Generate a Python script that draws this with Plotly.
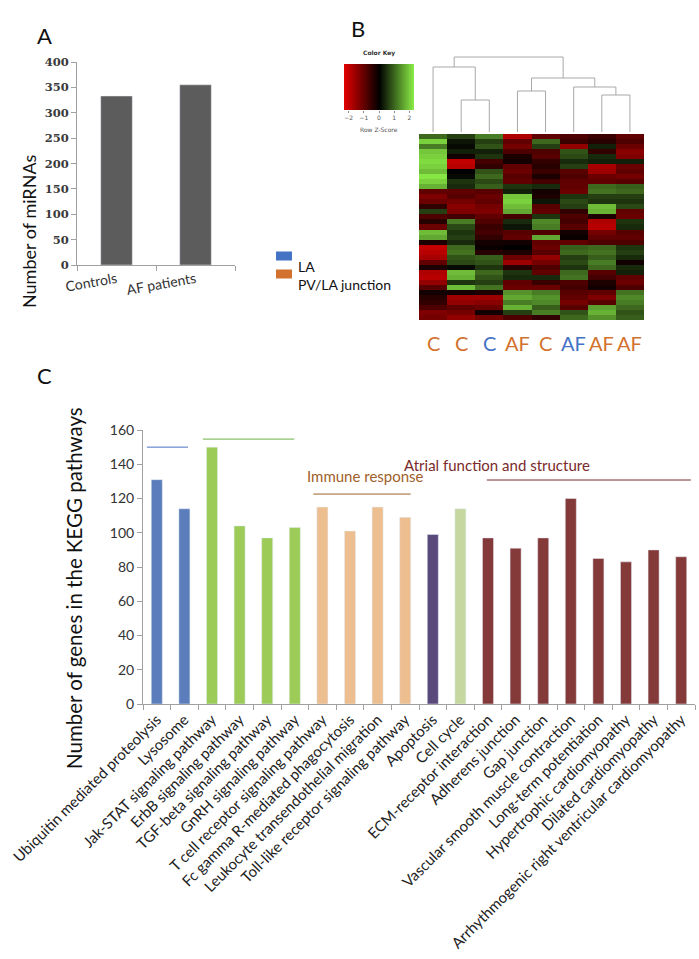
import plotly.graph_objects as go

W, H = 699, 959


def fx(p):
    return p / W


def fy(p):
    return 1 - p / H


# ---------------- Panel A data ----------------
groups_a = ["Controls", "AF patients"]
mirna_counts = [333, 355]

# ---------------- Panel B data ----------------
sample_labels = ["C", "C", "C", "AF", "C", "AF", "AF", "AF"]
sample_tissue = ["PV/LA junction", "PV/LA junction", "LA", "PV/LA junction",
                 "PV/LA junction", "LA", "PV/LA junction", "PV/LA junction"]
col1 = [1.0, 2.0, 1.2, 1.9, 2.0, 2.1, 2.0, 1.8, 2.2, 2.0, 1.7, -1.0, -1.3, -1.1, -0.5, 0.6, -0.8, -0.4, -1.1, 1.8,
        1.6, -0.3, -2.0, -1.9, -1.7, -1.0, -0.3, -1.8, -1.9, -1.5, -0.9, -0.2, -0.4, -0.5, -0.8, -1.3, -1.2]
col2 = [0.6, 0.2, 0.1, 0.3, -0.2, -2.0, -1.9, 0.0, 0.1, 0.5, 0.4, -1.0, -0.9, -1.2, -1.4, -1.3, -0.7, 1.2, 0.7, 0.5,
        0.6, 0.4, 1.0, 1.1, 0.8, 0.7, 0.1, 1.8, 1.7, 0.5, 1.8, -0.2, -1.6, -1.5, -1.0, -1.2, -1.5]
col3 = [1.2, 0.6, 0.8, 0.3, 0.5, -0.7, -0.5, 0.8, 1.0, 0.7, 0.9, -0.9, -1.1, -1.0, -1.2, -1.3, -1.0, -0.8, -0.6, -0.7,
        -0.5, -0.2, -0.1, -0.4, 0.9, 0.8, 0.5, 1.0, 0.8, 0.6, 1.1, -0.3, -1.6, -1.4, -1.1, -0.2, -1.2]
col4 = [-1.8, -1.0, -1.2, -0.8, -0.3, -0.2, -1.0, -1.1, -0.9, -1.0, 0.5, 0.3, 1.9, 2.0, 1.8, 1.6, -0.7, 0.4, 0.2, -0.9,
        -1.0, -0.2, 0.0, -0.3, -1.1, -1.6, -0.4, 0.5, 0.4, -1.0, -1.1, 1.4, 1.6, 1.2, 1.7, 0.6, -0.8]
col5 = [-1.0, 1.0, 0.6, -0.8, -0.9, -0.5, -0.4, -0.6, -0.3, -0.7, 0.4, -0.2, -0.3, 0.2, -0.9, -1.0, 0.5, 1.3, 1.2, -0.8,
        1.6, -1.0, -1.1, -0.9, -1.5, -1.2, -0.8, -1.0, 0.4, -0.6, -1.1, 1.2, 1.4, 1.3, 0.9, 1.2, -0.5]
col6 = [-0.8, -0.6, -1.5, 0.8, 0.7, 0.4, 0.6, -0.9, -0.8, -1.0, -1.0, -1.1, 0.5, 0.7, 0.6, -0.5, -0.8, -0.7, -0.9, -0.2,
        -0.1, -1.0, 0.9, 1.0, 0.6, 0.7, 0.5, 1.0, 1.1, -0.8, -0.7, -0.9, -1.0, -1.2, -0.9, 0.8, 1.0]
col7 = [-0.6, -0.4, 0.3, -0.5, 0.4, 0.3, -1.7, -1.6, -1.1, -1.0, 1.0, 1.1, 0.6, 0.5, 1.8, 1.7, -0.3, -1.8, -1.9, -1.2,
        -1.0, -0.8, 1.0, 1.1, 0.9, 1.2, 1.0, -0.9, -0.7, -0.3, -0.2, -1.0, -1.3, -0.9, 1.5, 1.7, 1.4]
col8 = [-1.0, -0.8, -1.1, -1.4, -1.3, 0.3, -1.1, -1.0, -1.2, -0.9, 0.9, 1.0, 0.6, 0.5, 0.7, -1.0, -1.1, 0.5, 0.4, -0.9,
        -1.0, -0.8, 0.5, 0.6, 0.4, -0.2, 0.4, 0.3, -1.0, -1.1, -0.8, 1.1, 1.3, 1.2, 1.0, 0.8, 0.9]
# merges: (left node, right node, height); leaves are 0..7, new nodes numbered from 8
dendro_merges = [(1, 2, 32), (0, 8, 65), (3, 4, 41), (6, 7, 37), (5, 11, 45), (10, 12, 54), (9, 13, 75)]
colorkey_values = [-2.3, 0.0, 2.3]
colorkey_ticks = [-2, -1, 0, 1, 2]

# ---------------- Panel C data ----------------
pathways = ["Ubiquitin mediated proteolysis", "Lysosome", "Jak-STAT signaling pathway",
            "ErbB signaling pathway", "TGF-beta signaling pathway", "GnRH signaling pathway",
            "T cell receptor signaling pathway", "Fc gamma R-mediated phagocytosis",
            "Leukocyte transendothelial migration", "Toll-like receptor signaling pathway",
            "Apoptosis", "Cell cycle", "ECM-receptor interaction", "Adherens junction",
            "Gap junction", "Vascular smooth muscle contraction", "Long-term potentiation",
            "Hypertrophic cardiomyopathy", "Dilated cardiomyopathy",
            "Arrhythmogenic right ventricular cardiomyopathy"]
gene_counts = [131, 114, 150, 104, 97, 103, 115, 101, 115, 109, 99, 114, 97, 91, 97, 120, 85, 83, 90, 86]
pathway_group = ["deg", "deg", "sig", "sig", "sig", "sig", "imm", "imm", "imm", "imm",
                 "apo", "cyc", "atr", "atr", "atr", "atr", "atr", "atr", "atr", "atr"]
group_names = ["Degradation", "Signalling", "Immune response", "Atrial function and structure"]

# ---------------- styles ----------------
FONT = "Lato"
group_colors = {"deg": "#5B7DBB", "sig": "#9DCB57", "imm": "#EDBE8F", "apo": "#5A4A7C",
                "cyc": "#C6D89F", "atr": "#853A3A"}
group_text_colors = ["#4C72C0", "#6DB045", "#A0602A", "#7A2A2A"]
tissue_colors = {"LA": "#4472C4", "PV/LA junction": "#D2722E"}
AXC = "#A0A0A0"

fig = go.Figure()

# Panel A bars
fig.add_trace(go.Bar(x=groups_a, y=mirna_counts, marker_color="#5C5C5C", xaxis="x", yaxis="y",
                     showlegend=False))

# Panel B heatmap
rows = [list(r) for r in zip(col1, col2, col3, col4, col5, col6, col7, col8)]
cscale = [[0, "#E00000"], [0.5, "#000000"], [1, "#8CF046"]]
fig.add_trace(go.Heatmap(z=rows, x=list(range(len(sample_labels))), y=list(range(len(rows))),
                         colorscale=cscale, zmin=-2.3, zmax=2.3, showscale=False,
                         xaxis="x2", yaxis="y2"))

# dendrogram
node_x = {i: float(i) for i in range(len(sample_labels))}
node_h = {i: 0.0 for i in range(len(sample_labels))}
dx, dy = [], []
nid = len(sample_labels)
for a, b, h in dendro_merges:
    xa, xb = node_x[a], node_x[b]
    dx += [xa, xa, xb, xb, None]
    dy += [node_h[a], h, h, node_h[b], None]
    node_x[nid] = (xa + xb) / 2
    node_h[nid] = h
    nid += 1
fig.add_trace(go.Scatter(x=dx, y=dy, mode="lines", line=dict(color="#A8A8A8", width=1),
                         xaxis="x3", yaxis="y3", showlegend=False, hoverinfo="skip"))

# color key
fig.add_trace(go.Heatmap(z=[colorkey_values], x=colorkey_values, y=[0], colorscale=cscale,
                         zmin=-2.3, zmax=2.3, zsmooth="best", showscale=False,
                         xaxis="x4", yaxis="y4"))

# Panel C bars
fig.add_trace(go.Bar(x=pathways, y=gene_counts, marker_color=[group_colors[g] for g in pathway_group],
                     xaxis="x5", yaxis="y5", showlegend=False))

fig.update_layout(
    width=W, height=H, margin=dict(l=0, r=0, t=0, b=0, autoexpand=False),
    plot_bgcolor="white", paper_bgcolor="white", bargap=0.6,
    font=dict(family=FONT, color="#222"),
    xaxis=dict(domain=[fx(77), fx(235)], anchor="y", type="category", tickson="boundaries",
               ticks="outside", ticklen=5, tickcolor=AXC, showline=True, linecolor=AXC, automargin=False,
               showgrid=False, tickangle=-10, tickfont=dict(family=FONT, size=14, color="#333")),
    yaxis=dict(domain=[fy(265), fy(62)], anchor="x", range=[0, 400], dtick=50, ticks="outside",
               ticklen=5, tickcolor=AXC, showline=True, linecolor=AXC, showgrid=False, zeroline=False,
               automargin=False,
               tickfont=dict(family="DejaVu Serif", size=11.5, color="#3a3a3a", weight="bold")),
    xaxis2=dict(domain=[fx(419), fx(644)], anchor="y2", range=[-0.5, 7.5], visible=False, automargin=False),
    yaxis2=dict(domain=[fy(320), fy(134)], anchor="x2", range=[len(rows) - 0.5, -0.5], visible=False,
                automargin=False),
    xaxis3=dict(domain=[fx(419), fx(644)], anchor="y3", range=[-0.5, 7.5], visible=False, automargin=False),
    yaxis3=dict(domain=[fy(132), fy(55)], anchor="x3", range=[0, 77], visible=False, automargin=False),
    xaxis4=dict(domain=[fx(344), fx(414)], anchor="y4", range=[-2.3, 2.3], tickvals=colorkey_ticks,
                ticks="outside", ticklen=2, tickcolor="#888", showline=False, showgrid=False,
                zeroline=False, automargin=False, tickfont=dict(size=6, color="#555", family="DejaVu Sans")),
    yaxis4=dict(domain=[fy(110), fy(64)], anchor="x4", range=[-0.5, 0.5], visible=False, automargin=False),
    xaxis5=dict(domain=[fx(143), fx(695)], anchor="y5", type="category", tickson="boundaries",
                ticks="outside", ticklen=5, tickcolor=AXC, showline=True, linecolor=AXC, automargin=False,
                showgrid=False, tickangle=-45, tickfont=dict(family=FONT, size=15, color="#222")),
    yaxis5=dict(domain=[fy(704), fy(430)], anchor="x5", range=[0, 160], dtick=20, ticks="outside",
                ticklen=5, tickcolor=AXC, showline=True, linecolor=AXC, showgrid=False, zeroline=False,
                automargin=False, tickfont=dict(family=FONT, size=14, color="#333")),
)

ann = []
# panel letters
for t, x, y in [("A", 35, 20), ("B", 358, 13), ("C", 35, 376)]:
    ann.append(dict(text=t, x=fx(x), y=fy(y), xref="paper", yref="paper", showarrow=False,
                    font=dict(family=FONT, size=22, color="#111")))
# axis titles
ann.append(dict(text="Number of miRNAs", x=fx(16), y=fy(152), xref="paper", yref="paper",
                showarrow=False, textangle=-90, font=dict(family=FONT, size=18, color="#111")))
ann.append(dict(text="Number of genes in the KEGG pathways", x=fx(60), y=fy(588), xref="paper",
                yref="paper", showarrow=False, textangle=-90, font=dict(family=FONT, size=20.5, color="#111")))
# color key texts
ann.append(dict(text="<b>Color Key</b>", x=fx(379), y=fy(59), xref="paper", yref="paper",
                yanchor="bottom", showarrow=False, font=dict(family="DejaVu Sans", size=6, color="#333")))
ann.append(dict(text="Row Z-Score", x=fx(379), y=fy(124), xref="paper", yref="paper",
                showarrow=False, font=dict(family="DejaVu Sans", size=6, color="#555")))
# sample labels
for i, (lab, tis) in enumerate(zip(sample_labels, sample_tissue)):
    ann.append(dict(text=lab, x=i, y=fy(343), xref="x2", yref="paper", showarrow=False,
                    font=dict(family=FONT, size=20, color=tissue_colors[tis])))
# legend for tissue
for k, (name, col) in enumerate(tissue_colors.items()):
    yc = 256 + 18 * k
    fig.add_shape(type="rect", xref="paper", yref="paper", x0=fx(276), x1=fx(292),
                  y0=fy(yc + 4.5), y1=fy(yc - 4.5), fillcolor=col, line=dict(width=0))
    ann.append(dict(text=name, x=fx(296), y=fy(yc), xref="paper", yref="paper", xanchor="left",
                    showarrow=False, font=dict(family=FONT, size=14, color="#111")))

# group headers for panel C (in category-index / value coordinates)
group_spans = [(-0.36, 1.13, 150), (1.67, 4.98, 154.7), (5.67, 9.2, 122.6), (11.96, 19.35, 130.8)]
group_label_pos = [(0.8, 175.5), (3.35, 164), (7.56, 133), (15.75, 139.5)]
for name, col, (x0, x1, yl), (xt, yt) in zip(group_names, group_text_colors, group_spans, group_label_pos):
    fig.add_shape(type="line", xref="x5 domain", yref="y5", x0=(x0 + 0.5) / len(pathways),
                  x1=(x1 + 0.5) / len(pathways), y0=yl, y1=yl, line=dict(color=col, width=1))
    ann.append(dict(text=name, x=(xt + 0.5) / len(pathways), y=yt, xref="x5 domain", yref="y5",
                    showarrow=False, font=dict(family=FONT, size=15, color=col)))

fig.update_layout(annotations=ann)
fig.write_html("out.html", config={"displayModeBar": False},
               post_script="document.body.style.margin='0px';document.body.style.padding='0px';"
                           "window.dispatchEvent(new Event('resize'));")
